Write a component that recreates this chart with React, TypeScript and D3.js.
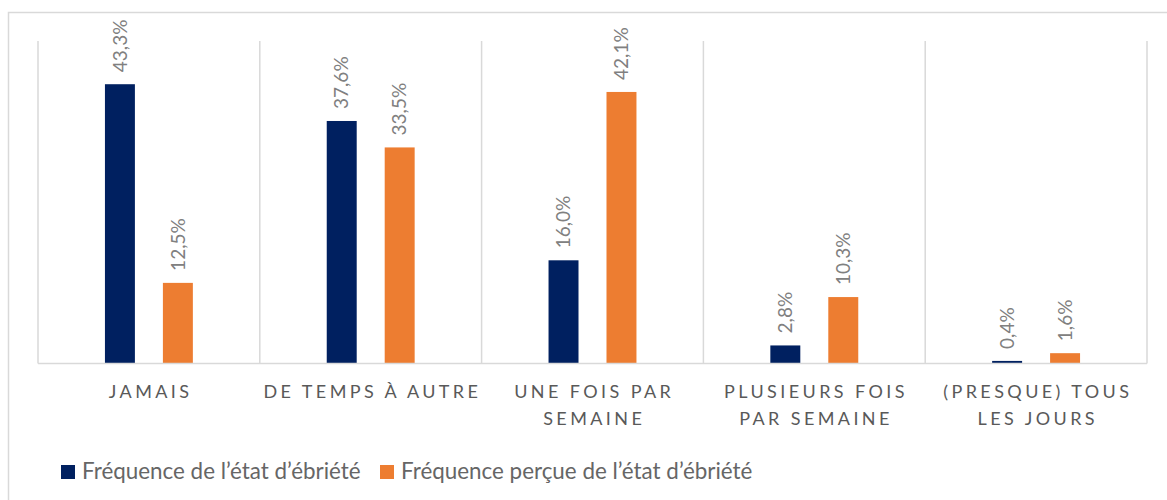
import React from "react";
import * as d3 from "d3";

// category labels (split on lines as in the original)
const categories = [
  ["JAMAIS"],
  ["DE TEMPS À AUTRE"],
  ["UNE FOIS PAR", "SEMAINE"],
  ["PLUSIEURS FOIS", "PAR SEMAINE"],
  ["(PRESQUE) TOUS", "LES JOURS"],
];
const seriesNames = [
  "Fréquence de l’état d’ébriété",
  "Fréquence perçue de l’état d’ébriété",
];
const freqReal = [43.3, 37.6, 16.0, 2.8, 0.4];
const freqPercue = [12.5, 33.5, 42.1, 10.3, 1.6];
const colors = ["#002060", "#ED7D31"];

const width = 1167;
const height = 500;
const FONT = "Lato, 'Open Sans', sans-serif";

export default function App() {
  const left = 38;
  const right = 1147;
  const top = 41;
  const bottom = 363.5;

  const x0 = d3
    .scaleBand<number>()
    .domain(d3.range(categories.length))
    .range([left, right]);
  const x1 = d3
    .scaleBand<number>()
    .domain([0, 1])
    .range([0, x0.bandwidth()])
    .paddingInner(0.483)
    .paddingOuter(1.155);
  const y = d3.scaleLinear().domain([0, 50]).range([bottom, top]);

  const series = [freqReal, freqPercue];
  const fmt = (v: number) => d3.format(".1f")(v).replace(".", ",") + "%";

  return (
    <svg
      width={width}
      height={height}
      style={{ position: "absolute", left: 0, top: 0, background: "#fff" }}
      fontFamily={FONT}
    >
      <rect x={8.5} y={12.5} width={1200} height={600} fill="#fff" stroke="#D9D9D9" strokeWidth={1.5} />

      {/* vertical separators */}
      {d3.range(categories.length + 1).map((i) => {
        const xx = i < categories.length ? x0(i)! : right;
        return (
          <line key={i} x1={xx} x2={xx} y1={top} y2={bottom} stroke="#D9D9D9" strokeWidth={1.5} />
        );
      })}

      {/* bars */}
      {series.map((vals, s) =>
        vals.map((v, i) => {
          const bx = x0(i)! + x1(s)!;
          return (
            <rect
              key={`${s}-${i}`}
              x={bx}
              y={y(v)}
              width={x1.bandwidth()}
              height={bottom - y(v)}
              fill={colors[s]}
            />
          );
        })
      )}

      <line x1={left} x2={right} y1={bottom} y2={bottom} stroke="#D9D9D9" strokeWidth={1.5} />

      {/* data labels */}
      {series.map((vals, s) =>
        vals.map((v, i) => {
          const cx = x0(i)! + x1(s)! + x1.bandwidth() / 2;
          const ty = y(v) - 12;
          return (
            <text
              key={`l${s}-${i}`}
              transform={`translate(${cx},${ty}) rotate(-90)`}
              dy="0.35em"
              fontSize={19}
              fill="#808080"
            >
              {fmt(v)}
            </text>
          );
        })
      )}

      {/* category labels */}
      {categories.map((lines, i) => {
        const cx = x0(i)! + x0.bandwidth() / 2;
        return (
          <text key={`c${i}`} textAnchor="middle" fontSize={18} fill="#595959" letterSpacing={3.4}>
            {lines.map((ln, k) => (
              <tspan key={k} x={cx + 1.7} y={398 + k * 27}>
                {ln}
              </tspan>
            ))}
          </text>
        );
      })}

      {/* legend */}
      {[61, 380].map((lx, s) => (
        <g key={`lg${s}`}>
          <rect x={lx} y={465} width={14} height={14} fill={colors[s]} />
          <text x={lx + 21} y={479} fontSize={22.4} fill="#666666">
            {seriesNames[s]}
          </text>
        </g>
      ))}
    </svg>
  );
}
